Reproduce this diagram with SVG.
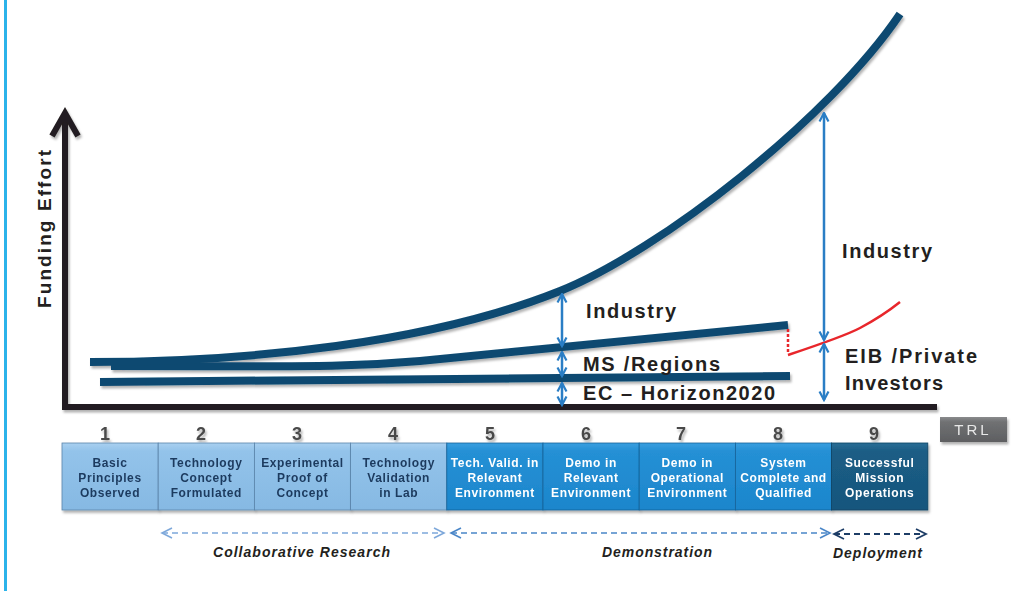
<svg xmlns="http://www.w3.org/2000/svg" width="1028" height="591" viewBox="0 0 1028 591">
<defs>
<style>
.lbl{font-family:"Liberation Sans",Arial,sans-serif;font-weight:bold;fill:#231f20}
.num{font-family:"Liberation Sans",Arial,sans-serif;font-weight:bold;font-size:18px;fill:#4a4a4a;text-anchor:middle}
.bt{font-family:"Liberation Sans",Arial,sans-serif;font-weight:bold;font-size:12px;letter-spacing:0.6px;text-anchor:middle}
.lt{fill:#1d3a5e}
.dt{fill:#ffffff}
.phase{font-family:"Liberation Sans",Arial,sans-serif;font-weight:bold;font-style:italic;font-size:14px;fill:#231f20}
.fund{fill:none;stroke:#0c4a71;stroke-width:8}
.ba{fill:none;stroke:#2a7ec5;stroke-width:2.5;marker-start:url(#ab);marker-end:url(#ab)}
</style>
<filter id="sh" filterUnits="userSpaceOnUse" x="0" y="0" width="1028" height="591">
<feDropShadow dx="1.5" dy="2.5" stdDeviation="1.2" flood-color="#000" flood-opacity="0.3"/>
</filter>
<linearGradient id="gl" x1="0" y1="0" x2="0" y2="1">
<stop offset="0" stop-color="#a9d0f0"/><stop offset="0.12" stop-color="#93c3ea"/><stop offset="1" stop-color="#86b9e3"/>
</linearGradient>
<linearGradient id="gm" x1="0" y1="0" x2="0" y2="1">
<stop offset="0" stop-color="#3a9fe0"/><stop offset="0.12" stop-color="#2590d5"/><stop offset="1" stop-color="#1c86cc"/>
</linearGradient>
<linearGradient id="gd" x1="0" y1="0" x2="0" y2="1">
<stop offset="0" stop-color="#2b6e96"/><stop offset="0.12" stop-color="#1b5d85"/><stop offset="1" stop-color="#17567d"/>
</linearGradient>
<linearGradient id="gt" x1="0" y1="0" x2="0" y2="1">
<stop offset="0" stop-color="#8a8b8d"/><stop offset="0.2" stop-color="#707173"/><stop offset="1" stop-color="#5e5f61"/>
</linearGradient>
<marker id="ab" markerUnits="userSpaceOnUse" markerWidth="12" markerHeight="12" viewBox="0 0 12 12" refX="10.5" refY="6" orient="auto-start-reverse">
<path d="M2,1.5 L10.5,6 L2,10.5" fill="none" stroke="#2a7ec5" stroke-width="2.2"/>
</marker>
<marker id="m1" markerUnits="userSpaceOnUse" markerWidth="14" markerHeight="14" viewBox="0 0 14 14" refX="12" refY="7" orient="auto-start-reverse">
<path d="M2,2 L12,7 L2,12" fill="none" stroke="#7ea8da" stroke-width="1.6"/>
</marker>
<marker id="m2" markerUnits="userSpaceOnUse" markerWidth="14" markerHeight="14" viewBox="0 0 14 14" refX="12" refY="7" orient="auto-start-reverse">
<path d="M2,2 L12,7 L2,12" fill="none" stroke="#4a86c8" stroke-width="1.6"/>
</marker>
<marker id="m3" markerUnits="userSpaceOnUse" markerWidth="14" markerHeight="14" viewBox="0 0 14 14" refX="12" refY="7" orient="auto-start-reverse">
<path d="M2,2 L12,7 L2,12" fill="none" stroke="#1d3d66" stroke-width="1.8"/>
</marker>
</defs>

<rect width="1028" height="591" fill="#ffffff"/>
<line x1="5.5" y1="0" x2="5.5" y2="591" stroke="#2bb3ea" stroke-width="3"/>

<g id="axes" filter="url(#sh)" fill="none" stroke="#231f20" stroke-width="6">
<line x1="65" y1="114" x2="65" y2="410"/>
<line x1="62" y1="407" x2="937" y2="407"/>
<polyline points="52,136 65,113 78,136" stroke-linejoin="miter"/>
</g>
<text class="lbl" font-size="19" transform="translate(51,229) rotate(-90)" text-anchor="middle" textLength="158" lengthAdjust="spacing">Funding Effort</text>

<g id="funding-lines" filter="url(#sh)">
<path id="ec-line" class="fund" d="M100,382 L790,376"/>
<path id="ms-line" class="fund" d="M111,366 C 300,366 340,368 420,361 L788,325"/>
<path id="total-curve" class="fund" d="M90,362 C 250,362 430,343 560,291 C 660,251 830,118 900,14"/>
</g>

<g id="private-line" fill="none" stroke="#e8262b" stroke-width="2.5">
<line x1="788" y1="329" x2="788" y2="354" stroke-dasharray="3 2"/>
<path d="M788,355 C 815,346 845,336 860,328 S 885,314 900,302"/>
</g>

<g id="connectors">
<line class="ba" x1="562" y1="294" x2="562" y2="346"/>
<line class="ba" x1="562" y1="352" x2="562" y2="376"/>
<line class="ba" x1="562" y1="383" x2="562" y2="405"/>
<line class="ba" x1="824" y1="113" x2="824" y2="340"/>
<line class="ba" x1="824" y1="344" x2="824" y2="400"/>
<line x1="162" y1="533" x2="444" y2="533" fill="none" stroke="#7ea8da" stroke-width="1.6" stroke-dasharray="6 4" marker-start="url(#m1)" marker-end="url(#m1)"/>
<line x1="451" y1="533" x2="830" y2="533" fill="none" stroke="#4a86c8" stroke-width="1.6" stroke-dasharray="6 4" marker-start="url(#m2)" marker-end="url(#m2)"/>
<line x1="834" y1="534" x2="926" y2="534" fill="none" stroke="#1d3d66" stroke-width="1.8" stroke-dasharray="6 4" marker-start="url(#m3)" marker-end="url(#m3)"/>
</g>

<g id="funding-labels">
<text class="lbl" x="586" y="318" font-size="20" textLength="90" lengthAdjust="spacing">Industry</text>
<text class="lbl" x="583" y="371" font-size="20" textLength="137" lengthAdjust="spacing">MS /Regions</text>
<text class="lbl" x="583" y="400" font-size="20" textLength="192" lengthAdjust="spacing">EC – Horizon2020</text>
<text class="lbl" x="842" y="258" font-size="20" textLength="90" lengthAdjust="spacing">Industry</text>
<text class="lbl" x="845" y="363" font-size="20" textLength="132" lengthAdjust="spacing">EIB /Private</text>
<text class="lbl" x="845" y="390" font-size="20" textLength="98" lengthAdjust="spacing">Investors</text>
</g>

<g id="trl-1" filter="url(#sh)">
<text class="num" x="105" y="440">1</text>
<rect x="62" y="443" width="96.2" height="67" fill="url(#gl)" stroke="#5a84aa" stroke-width="0.8"/>
<text class="bt lt" x="110" y="467">Basic</text><text class="bt lt" x="110" y="482">Principles</text><text class="bt lt" x="110" y="497">Observed</text>
</g>
<g id="trl-2" filter="url(#sh)">
<text class="num" x="201" y="440">2</text>
<rect x="158.2" y="443" width="96.2" height="67" fill="url(#gl)" stroke="#5a84aa" stroke-width="0.8"/>
<text class="bt lt" x="206.3" y="467">Technology</text><text class="bt lt" x="206.3" y="482">Concept</text><text class="bt lt" x="206.3" y="497">Formulated</text>
</g>
<g id="trl-3" filter="url(#sh)">
<text class="num" x="297" y="440">3</text>
<rect x="254.4" y="443" width="96.2" height="67" fill="url(#gl)" stroke="#5a84aa" stroke-width="0.8"/>
<text class="bt lt" x="302.5" y="467">Experimental</text><text class="bt lt" x="302.5" y="482">Proof of</text><text class="bt lt" x="302.5" y="497">Concept</text>
</g>
<g id="trl-4" filter="url(#sh)">
<text class="num" x="393" y="440">4</text>
<rect x="350.6" y="443" width="96.2" height="67" fill="url(#gl)" stroke="#5a84aa" stroke-width="0.8"/>
<text class="bt lt" x="398.7" y="467">Technology</text><text class="bt lt" x="398.7" y="482">Validation</text><text class="bt lt" x="398.7" y="497">in Lab</text>
</g>
<g id="trl-5" filter="url(#sh)">
<text class="num" x="490" y="440">5</text>
<rect x="446.8" y="443" width="96.2" height="67" fill="url(#gm)" stroke="#14639a" stroke-width="0.8"/>
<text class="bt dt" x="494.9" y="467">Tech. Valid. in</text><text class="bt dt" x="494.9" y="482">Relevant</text><text class="bt dt" x="494.9" y="497">Environment</text>
</g>
<g id="trl-6" filter="url(#sh)">
<text class="num" x="586" y="440">6</text>
<rect x="543" y="443" width="96.2" height="67" fill="url(#gm)" stroke="#14639a" stroke-width="0.8"/>
<text class="bt dt" x="591.1" y="467">Demo in</text><text class="bt dt" x="591.1" y="482">Relevant</text><text class="bt dt" x="591.1" y="497">Environment</text>
</g>
<g id="trl-7" filter="url(#sh)">
<text class="num" x="681" y="440">7</text>
<rect x="639.2" y="443" width="96.2" height="67" fill="url(#gm)" stroke="#14639a" stroke-width="0.8"/>
<text class="bt dt" x="687.3" y="467">Demo in</text><text class="bt dt" x="687.3" y="482">Operational</text><text class="bt dt" x="687.3" y="497">Environment</text>
</g>
<g id="trl-8" filter="url(#sh)">
<text class="num" x="778" y="440">8</text>
<rect x="735.4" y="443" width="96.2" height="67" fill="url(#gm)" stroke="#14639a" stroke-width="0.8"/>
<text class="bt dt" x="783.5" y="467">System</text><text class="bt dt" x="783.5" y="482">Complete and</text><text class="bt dt" x="783.5" y="497">Qualified</text>
</g>
<g id="trl-9" filter="url(#sh)">
<text class="num" x="874" y="440">9</text>
<rect x="831.6" y="443" width="96.2" height="67" fill="url(#gd)" stroke="#0f4263" stroke-width="0.8"/>
<text class="bt dt" x="879.7" y="467">Successful</text><text class="bt dt" x="879.7" y="482">Mission</text><text class="bt dt" x="879.7" y="497">Operations</text>
</g>
<g id="trl-tag" filter="url(#sh)">
<rect x="940" y="417" width="67" height="25" fill="url(#gt)"/>
<text x="973" y="435" font-family="Liberation Sans, Arial, sans-serif" font-size="15" fill="#e8e8e8" text-anchor="middle" letter-spacing="3">TRL</text>
</g>

<g id="phase-labels">
<text class="phase" x="213" y="557" textLength="177" lengthAdjust="spacing">Collaborative Research</text>
<text class="phase" x="602" y="557" textLength="110" lengthAdjust="spacing">Demonstration</text>
<text class="phase" x="833" y="558" textLength="89" lengthAdjust="spacing">Deployment</text>
</g>
</svg>
